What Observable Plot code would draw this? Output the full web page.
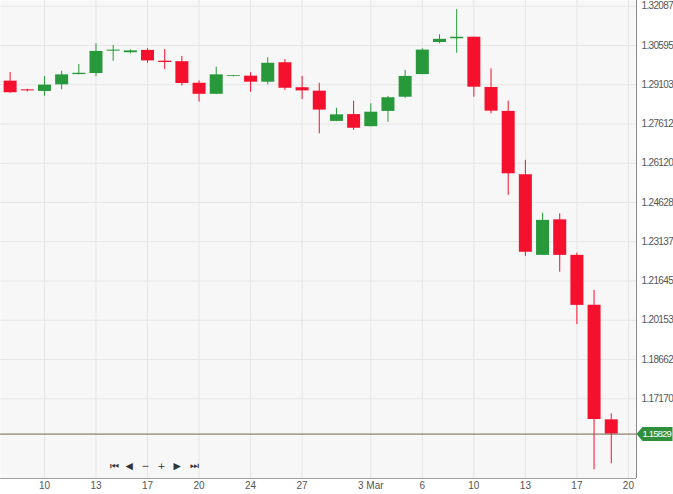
<!DOCTYPE html>
<html>
<head>
<meta charset="utf-8">
<script src="https://cdn.jsdelivr.net/npm/d3@7"></script>
<script src="https://cdn.jsdelivr.net/npm/@observablehq/plot@0.6"></script>
<style>
  html, body { margin: 0; padding: 0; background: #ffffff; }
  #chart svg { display: block; }
  #chart g[aria-label="y-axis tick label"] text { letter-spacing: -0.65px; }
  #chart .tagtext text { letter-spacing: -0.85px; }
</style>
</head>
<body>
<div id="chart"></div>
<script>
// Trading days (Sun–Fri sessions); the last day has no candle yet
const days = [
  "2020-02-07","2020-02-09","2020-02-10","2020-02-11","2020-02-12","2020-02-13","2020-02-14",
  "2020-02-16","2020-02-17","2020-02-18","2020-02-19","2020-02-20","2020-02-21",
  "2020-02-23","2020-02-24","2020-02-25","2020-02-26","2020-02-27","2020-02-28",
  "2020-03-01","2020-03-02","2020-03-03","2020-03-04","2020-03-05","2020-03-06",
  "2020-03-08","2020-03-09","2020-03-10","2020-03-11","2020-03-12","2020-03-13",
  "2020-03-15","2020-03-16","2020-03-17","2020-03-18","2020-03-19","2020-03-20"
];
const open  = [1.2924,1.2891,1.2885,1.2910,1.2949,1.2953,1.3038,1.3032,1.3041,1.3000,1.2998,1.2916,1.2874,
               1.2942,1.2943,1.2920,1.2994,1.2899,1.2886,1.2771,1.2797,1.2751,1.2809,1.2863,1.2949,
               1.3071,1.3085,1.3091,1.2900,1.2809,1.2568,1.2262,1.2397,1.2262,1.2072,1.1637];
const high  = [1.2957,1.2893,1.2942,1.2962,1.2987,1.3066,1.3060,1.3043,1.3047,1.3044,1.3018,1.2925,1.2977,
               1.2946,1.2956,1.3013,1.3006,1.2942,1.2916,1.2821,1.2848,1.2838,1.2866,1.2965,1.3047,
               1.3100,1.3196,1.3091,1.2971,1.2848,1.2623,1.2422,1.2420,1.2270,1.2129,1.1660];
const low   = [1.2878,1.2883,1.2867,1.2891,1.2948,1.2941,1.2999,1.3028,1.2992,1.2968,1.2906,1.2844,1.2873,
               1.2940,1.2882,1.2910,1.2889,1.2854,1.2724,1.2770,1.2737,1.2750,1.2768,1.2859,1.2949,
               1.3066,1.3030,1.2863,1.2800,1.2490,1.2258,1.2262,1.2198,1.1999,1.1447,1.1470];
const close = [1.2880,1.2887,1.2909,1.2948,1.2954,1.3037,1.3042,1.3039,1.3001,1.2995,1.2915,1.2874,1.2948,
               1.2945,1.2920,1.2992,1.2897,1.2887,1.2814,1.2796,1.2745,1.2806,1.2861,1.2942,1.3042,
               1.3083,1.3091,1.2901,1.2810,1.2572,1.2274,1.2395,1.2262,1.2072,1.1638,1.15829];

// Axis ticks
const xTickDays   = ["2020-02-10","2020-02-13","2020-02-17","2020-02-20","2020-02-24","2020-02-27",
                     "2020-03-03","2020-03-06","2020-03-10","2020-03-13","2020-03-17","2020-03-20"];
const xTickLabels = ["10","13","17","20","24","27","3 Mar","6","10","13","17","20"];
const yTicks = [1.32087,1.30595,1.29103,1.27612,1.26120,1.24628,1.23137,1.21645,1.20153,1.18662,1.17170];
const yDomain = [1.14141, 1.32305];
const navIcons = ["⏮","◀","−","+","▶","⏭"];

const up = "#27993a", down = "#f5102d";
const candles = open.map((o, i) => ({
  i, date: days[i], open: o, high: high[i], low: low[i], close: close[i],
  color: close[i] >= o ? up : down
}));
const tickIdx = xTickDays.map(d => days.indexOf(d));
const labelOf = new Map(tickIdx.map((t, k) => [t, xTickLabels[k]]));
const last = close[close.length - 1];
const xDomain = [-0.56, days.length - 1 + 0.47];

const tagSymbol = {
  draw(ctx) {
    ctx.moveTo(0, 0); ctx.lineTo(6, -7); ctx.lineTo(36, -7);
    ctx.lineTo(36, 7); ctx.lineTo(6, 7); ctx.closePath();
  }
};

const chart = Plot.plot({
  width: 673, height: 494,
  marginLeft: 0, marginRight: 37, marginTop: 0, marginBottom: 16,
  style: { fontFamily: "'Liberation Sans', Arial, sans-serif", fontSize: "10px", background: "#ffffff", color: "#555" },
  x: { type: "linear", domain: xDomain, ticks: tickIdx, tickFormat: d => labelOf.get(d) ?? "",
       tickSize: 0, tickPadding: 3, label: null },
  y: { domain: yDomain, ticks: yTicks, tickFormat: d3.format(".5f"), tickSize: 0, tickPadding: 5,
       axis: "right", label: null },
  marks: [
    Plot.frame({ fill: "#f7f7f7", stroke: null }),
    Plot.ruleX(tickIdx, { stroke: "#e6e6e6" }),
    Plot.ruleY(yTicks, { stroke: "#e6e6e6" }),
    Plot.ruleX(candles, { x: "i", y1: "low", y2: "high", stroke: "color", strokeWidth: 1 }),
    Plot.ruleX(candles, { x: "i", y1: "open", y2: "close", stroke: "color", strokeWidth: 13, strokeLinecap: "butt" }),
    Plot.ruleY([yDomain[0]], { stroke: "#a0a0a0" }),
    Plot.ruleX([xDomain[1]], { stroke: "#8a8a8a" }),
    Plot.ruleY([last], { stroke: "#7a6248", strokeWidth: 1 }),
    Plot.dot([last], { y: d => d, frameAnchor: "right", symbol: tagSymbol, fill: "#2f8f3c", stroke: null, r: 5 }),
    Plot.text([last], { y: d => d, frameAnchor: "right", text: d => d3.format(".5f")(d), textAnchor: "start",
                        dx: 6, fill: "#ffffff", fontSize: 9.5, className: "tagtext" }),
    ...navIcons.map((s, k) => Plot.text([s], { text: d => d, frameAnchor: "bottom-left",
                        dx: 109 + 16 * k, dy: -10, fill: "#333", fontSize: 9.5,
                        fontFamily: "'DejaVu Sans', sans-serif" }))
  ]
});
document.getElementById("chart").appendChild(chart);
</script>
</body>
</html>
